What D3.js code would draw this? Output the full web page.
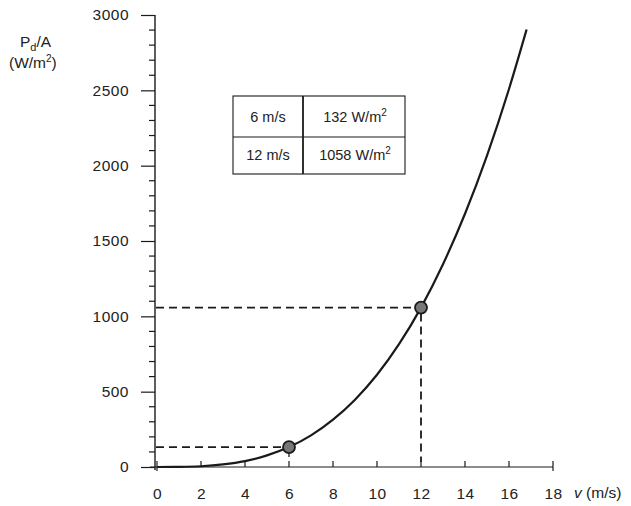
<!DOCTYPE html>
<html>
<head>
<meta charset="utf-8">
<script src="https://cdn.jsdelivr.net/npm/d3@7"></script>
<style>
  body { margin: 0; background: #fff; }
  text { font-family: "Liberation Sans", Arial, sans-serif; fill: #222; }
</style>
</head>
<body>
<svg id="canvas" width="631" height="506"></svg>
<script>
// values
var speeds = [0, 1, 2, 3, 4, 5, 6, 7, 8, 9, 10, 11, 12, 13, 14, 15, 16, 16.8];
var density = [0, 1, 5, 17, 39, 77, 132, 210, 314, 447, 612, 815, 1058, 1346, 1681, 2067, 2509, 2904];
var markSpeeds = [6, 12];
var markDensity = [132, 1058];
var tableRows = [["6 m/s", "132 W/m", "2"], ["12 m/s", "1058 W/m", "2"]];
var xTicks = [0, 2, 4, 6, 8, 10, 12, 14, 16, 18];
var yTicks = [0, 500, 1000, 1500, 2000, 2500, 3000];

function drawChart() {
    "use strict";

    var svg = d3.select(document.getElementById('canvas'));
    var x = d3.scaleLinear().domain([0, 18]).range([157, 553]);
    var y = d3.scaleLinear().domain([0, 3000]).range([467, 15]);
    var ink = '#1a1a1a';
    var fs = '15.5px';

    // y axis: major ticks every 500, minor every 100
    var yAxis = d3.axisLeft(y).tickValues(yTicks).tickFormat(d3.format('d')).tickSize(14).tickPadding(12);
    var ga = svg.append('g').attr('transform', 'translate(155,0)').call(yAxis);
    ga.select('.domain').remove();
    ga.selectAll('line').attr('stroke', ink).attr('stroke-width', 1.2);
    ga.selectAll('text').style('font-size', fs).attr('letter-spacing', '0.5px');
    svg.append('line').attr('x1', 155).attr('x2', 155).attr('y1', y(3000)).attr('y2', y(0) + 3)
        .attr('stroke', ink).attr('stroke-width', 1.4);
    svg.append('g').selectAll('line')
        .data(d3.range(0, 3001, 100).filter(function(v) { return v % 500 !== 0; }))
        .enter().append('line')
        .attr('x1', 149).attr('x2', 155)
        .attr('y1', function(v) { return y(v); }).attr('y2', function(v) { return y(v); })
        .attr('stroke', ink).attr('stroke-width', 1.2);

    // x axis: ticks point up
    var xAxis = d3.axisBottom(x).tickValues(xTicks).tickSize(0).tickPadding(21);
    var gx = svg.append('g').attr('transform', 'translate(0,467)').call(xAxis);
    gx.select('.domain').remove();
    gx.selectAll('text').style('font-size', fs).attr('letter-spacing', '0.5px');
    svg.append('line').attr('x1', 150).attr('x2', x(18)).attr('y1', 467).attr('y2', 467)
        .attr('stroke', ink).attr('stroke-width', 1.2);
    svg.append('g').selectAll('line')
        .data(xTicks)
        .enter().append('line')
        .attr('x1', function(v) { return x(v); }).attr('x2', function(v) { return x(v); })
        .attr('y1', 461).attr('y2', function(v) { return (v === 0 || v === 18) ? 471 : 467; })
        .attr('stroke', ink).attr('stroke-width', 1.2);

    // axis titles
    var t = svg.append('text').attr('x', 20).attr('y', 47).style('font-size', fs);
    t.append('tspan').text('P');
    t.append('tspan').attr('dy', 4).style('font-size', '11px').text('d');
    t.append('tspan').attr('dy', -4).text('/A');
    var t2 = svg.append('text').attr('x', 9).attr('y', 68).style('font-size', fs);
    t2.append('tspan').text('(W/m');
    t2.append('tspan').attr('dy', -6).style('font-size', '10px').text('2');
    t2.append('tspan').attr('dy', 6).text(')');

    var vx = svg.append('text').attr('x', 574).attr('y', 498).style('font-size', fs);
    vx.append('tspan').style('font-style', 'italic').text('v');
    vx.append('tspan').text(' (m/s)');

    // dashed guides
    var dash = '8,5';
    markSpeeds.forEach(function(s, i) {
        svg.append('line').attr('x1', 156).attr('x2', x(s) - 6)
            .attr('y1', y(markDensity[i])).attr('y2', y(markDensity[i]))
            .attr('stroke', ink).attr('stroke-width', 1.6).attr('stroke-dasharray', dash);
    });
    svg.append('line').attr('x1', x(12)).attr('x2', x(12)).attr('y1', y(1058) + 6).attr('y2', 462)
        .attr('stroke', ink).attr('stroke-width', 1.8).attr('stroke-dasharray', dash);
    svg.append('line').attr('x1', x(6)).attr('x2', x(6)).attr('y1', y(132) + 6).attr('y2', 457)
        .attr('stroke', ink).attr('stroke-width', 1.3);

    // curve
    var pts = speeds.map(function(s, i) { return [s, density[i]]; });
    var line = d3.line()
        .x(function(d) { return x(d[0]); })
        .y(function(d) { return y(d[1]); })
        .curve(d3.curveMonotoneX);
    svg.append('path').datum(pts).attr('d', line)
        .attr('fill', 'none').attr('stroke', ink).attr('stroke-width', 2.2);

    // markers
    svg.selectAll('circle.mark')
        .data(markSpeeds)
        .enter().append('circle')
        .attr('class', 'mark')
        .attr('cx', function(s) { return x(s); })
        .attr('cy', function(s, i) { return y(markDensity[i]); })
        .attr('r', 6)
        .attr('fill', '#777')
        .attr('stroke', ink).attr('stroke-width', 1.8);

    // table
    var tb = svg.append('g');
    tb.append('rect').attr('x', 233).attr('y', 96).attr('width', 172).attr('height', 78)
        .attr('fill', 'none').attr('stroke', ink).attr('stroke-width', 1.1);
    tb.append('line').attr('x1', 233).attr('x2', 405).attr('y1', 137).attr('y2', 137)
        .attr('stroke', ink).attr('stroke-width', 1.1);
    tb.append('line').attr('x1', 303).attr('x2', 303).attr('y1', 96).attr('y2', 174)
        .attr('stroke', ink).attr('stroke-width', 1.8);
    tableRows.forEach(function(r, i) {
        var cy = 122 + i * 38;
        tb.append('text').attr('x', 268).attr('y', cy).attr('text-anchor', 'middle')
            .style('font-size', '14.5px').text(r[0]);
        var c = tb.append('text').attr('x', 355).attr('y', cy).attr('text-anchor', 'middle')
            .style('font-size', '14.5px');
        c.append('tspan').text(r[1]);
        c.append('tspan').attr('dy', -6).style('font-size', '10px').text(r[2]);
    });
}

drawChart();
</script>
</body>
</html>
